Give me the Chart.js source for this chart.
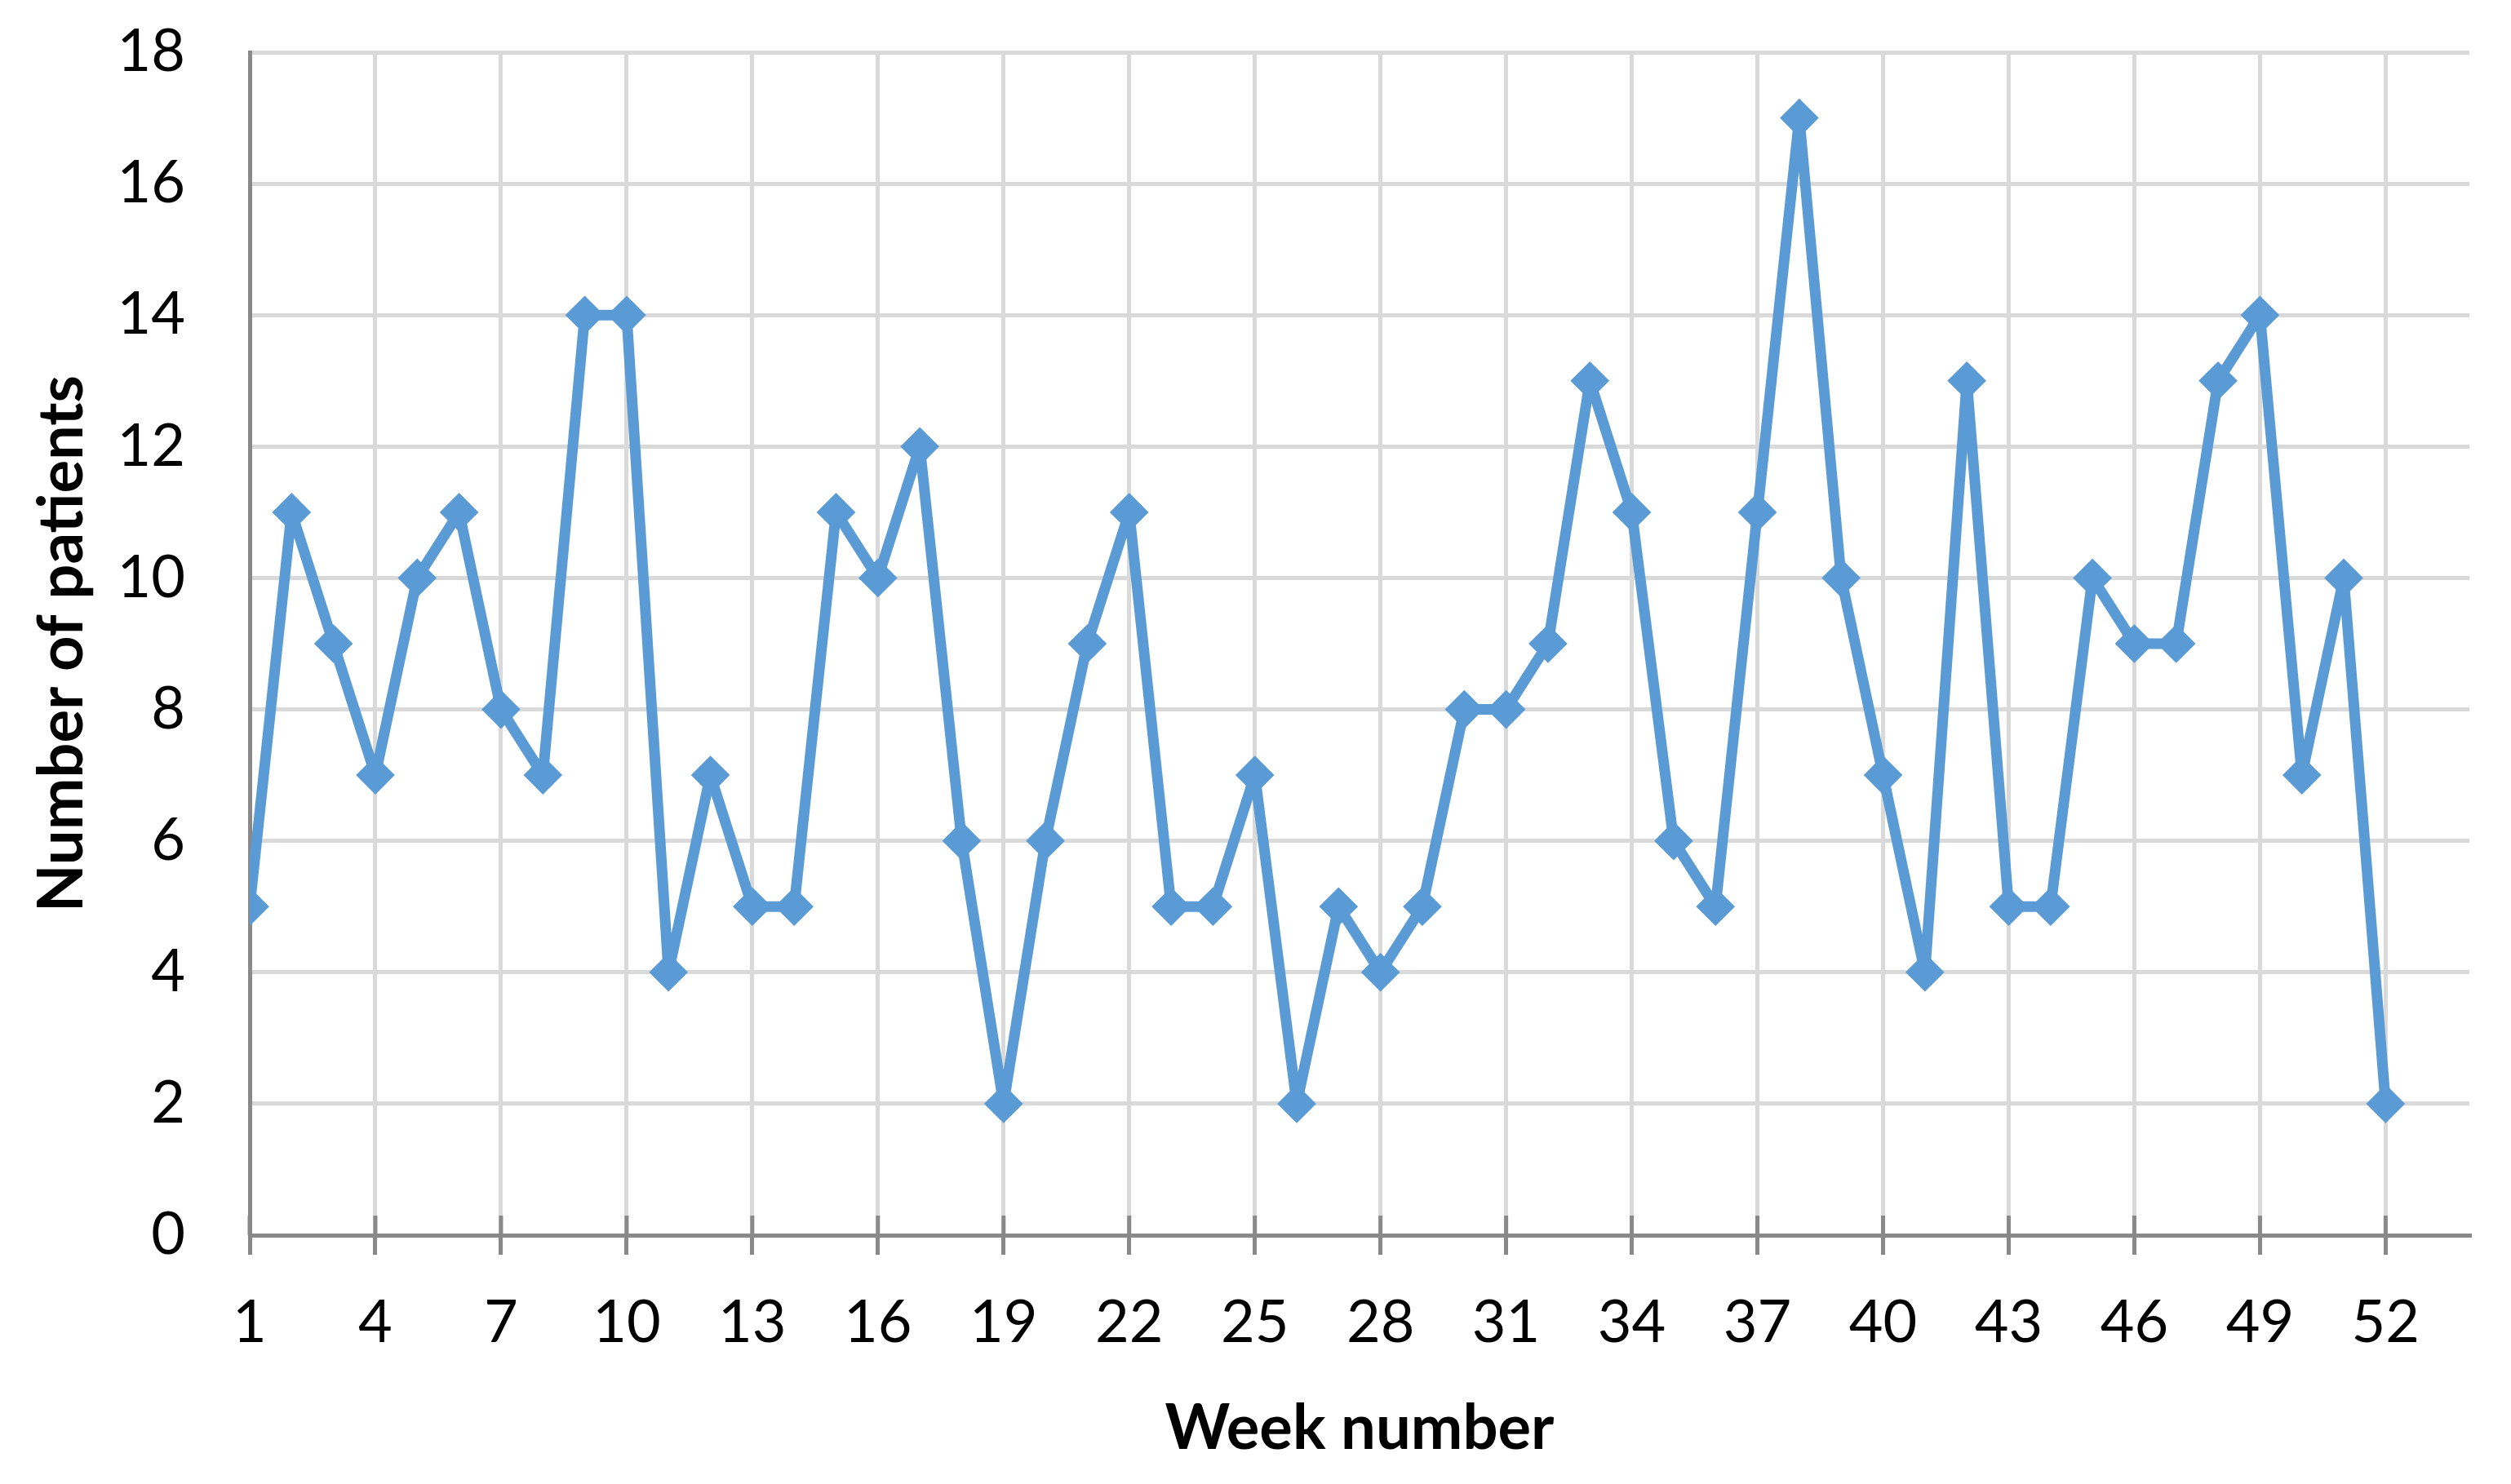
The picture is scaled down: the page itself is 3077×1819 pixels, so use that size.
<!DOCTYPE html>
<html>
<head>
<meta charset="utf-8">
<script src="https://cdn.jsdelivr.net/npm/chart.js@4/dist/chart.umd.min.js"></script>
<style>
    html, body { margin: 0; padding: 0; background: #ffffff; }
    #wrap { width: 3077px; height: 1819px; }
</style>
</head>
<body>
<div id="wrap"><canvas id="weekChart"></canvas></div>
<script>
// Weekly patient counts
const weeks = [];
for (let w = 1; w <= 52; w++) weeks.push(w);
const patients = [5, 11, 9, 7, 10, 11, 8, 7, 14, 14, 4, 7, 5, 5, 11, 10, 12, 6, 2, 6,
    9, 11, 5, 5, 7, 2, 5, 4, 5, 8, 8, 9, 13, 11, 6, 5, 11, 17, 10, 7,
    4, 13, 5, 5, 10, 9, 9, 13, 14, 7, 10, 2];
const weekTicks = [1, 4, 7, 10, 13, 16, 19, 22, 25, 28, 31, 34, 37, 40, 43, 46, 49, 52];
const patientTicks = [0, 2, 4, 6, 8, 10, 12, 14, 16, 18];

const lineColor = '#5b9bd5';
const axisColor = '#898989';
const gridColor = '#d9d9d9';
const fontFamily = 'Lato, "Open Sans", sans-serif';

const getPoints = function (xs, ys) {
    let points = [];
    for (var i = 0; i < xs.length; i++) {
        points.push({x: xs[i], y: ys[i]})
    }
    return points
};

// Excel style tick marks that cross the axis line
const crossTicks = {
    id: 'crossTicks',
    beforeDatasetsDraw(chart) {
        const xScale = chart.scales.x;
        const ctx = chart.ctx;
        const y0 = chart.chartArea.bottom;
        ctx.save();
        ctx.strokeStyle = axisColor;
        ctx.lineWidth = 5;
        weekTicks.forEach(v => {
            const px = xScale.getPixelForValue(v);
            ctx.beginPath();
            ctx.moveTo(px, y0);
            ctx.lineTo(px, y0 - 24);
            ctx.stroke();
        });
        ctx.restore();
    }
};

new Chart(document.getElementById('weekChart'), {
    type: 'line',
    data: {
        datasets: [{
            label: 'Number of patients',
            data: getPoints(weeks, patients),
            borderColor: lineColor,
            borderWidth: 13,
            borderJoinStyle: 'round',
            borderCapStyle: 'round',
            backgroundColor: lineColor,
            pointStyle: 'rectRot',
            pointRadius: 21,
            pointBorderWidth: 4,
            pointBackgroundColor: lineColor,
            pointBorderColor: lineColor,
            tension: 0
        }]
    },
    options: {
        responsive: true,
        maintainAspectRatio: false,
        animation: false,
        layout: {
            padding: {top: 64, right: 51, bottom: 0, left: 0}
        },
        plugins: {
            legend: {display: false},
            tooltip: {enabled: false}
        },
        scales: {
            x: {
                type: 'linear',
                min: 1,
                max: 54,
                afterBuildTicks: scale => {
                    scale.ticks = weekTicks.map(v => ({value: v}));
                },
                afterFit: scale => {
                    scale.height = 305;
                },
                grid: {
                    color: gridColor,
                    lineWidth: 5,
                    drawTicks: true,
                    tickLength: 24,
                    tickColor: axisColor,
                    tickWidth: 5
                },
                border: {display: true, color: axisColor, width: 5},
                ticks: {
                    color: '#000000',
                    padding: 41,
                    maxRotation: 0,
                    autoSkip: false,
                    font: {family: fontFamily, size: 72}
                },
                title: {
                    display: true,
                    text: 'Week number',
                    color: '#000000',
                    padding: {top: 0, bottom: 22},
                    font: {family: fontFamily, size: 76, weight: 'bold'}
                }
            },
            y: {
                min: 0,
                max: 18,
                afterBuildTicks: scale => {
                    scale.ticks = patientTicks.map(v => ({value: v}));
                },
                afterFit: scale => {
                    scale.width = 306;
                    // label gap should not push the plot area down
                    scale.paddingTop = 0;
                    scale.paddingBottom = 0;
                },
                grid: {
                    color: gridColor,
                    lineWidth: 5,
                    drawTicks: false
                },
                border: {display: true, color: axisColor, width: 5},
                ticks: {
                    color: '#000000',
                    padding: 79,
                    font: {family: fontFamily, size: 72}
                },
                title: {
                    display: true,
                    text: 'Number of patients',
                    color: '#000000',
                    padding: {top: 31, bottom: 0},
                    font: {family: fontFamily, size: 76, weight: 'bold'}
                }
            }
        }
    },
    plugins: [crossTicks]
});
</script>
</body>
</html>
